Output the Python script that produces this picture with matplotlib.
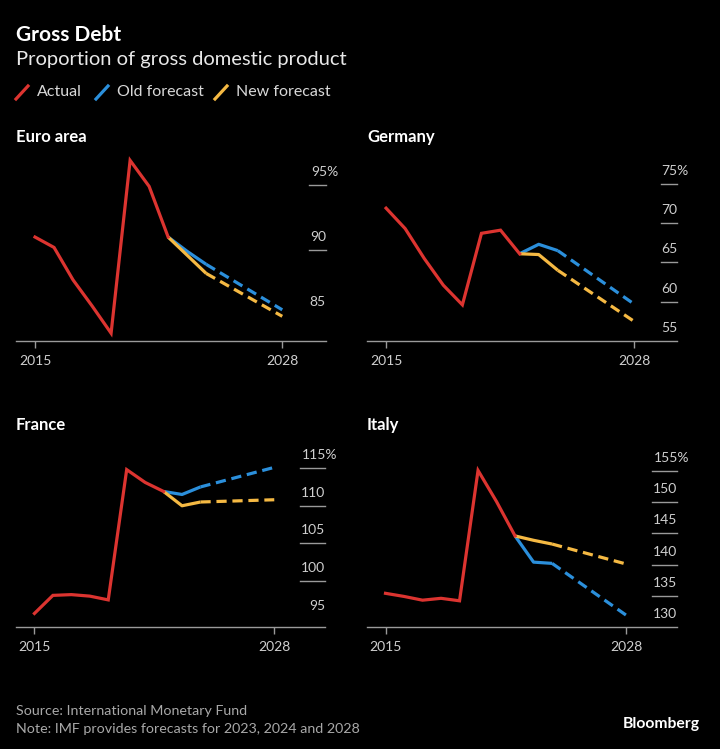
import numpy as np
import matplotlib.pyplot as plt
from matplotlib.lines import Line2D

plt.rcParams['font.family'] = ['Lato', 'DejaVu Sans']

# Data (share of GDP, %)
actual_years = [2015, 2016, 2017, 2018, 2019, 2020, 2021, 2022]
forecast_years = [2022, 2023, 2024, 2028]

euro_actual = [91.0, 90.2, 87.7, 85.7, 83.6, 96.9, 94.9, 91.0]
euro_old = [91.0, 89.9, 88.9, 85.4]
euro_new = [91.0, 89.6, 88.2, 84.9]

germany_actual = [71.9, 69.3, 65.5, 62.1, 59.6, 68.7, 69.1, 66.1]
germany_old = [66.1, 67.3, 66.5, 59.7]
germany_new = [66.1, 66.0, 64.0, 57.5]

france_actual = [95.7, 98.1, 98.2, 98.0, 97.5, 114.8, 113.1, 111.9]
france_old = [111.9, 111.5, 112.5, 115.1]
france_new = [111.9, 110.0, 110.5, 110.8]

italy_actual = [135.4, 134.9, 134.3, 134.6, 134.2, 155.1, 150.1, 144.6]
italy_old = [144.6, 140.4, 140.2, 131.9]
italy_new = [144.6, 143.9, 143.3, 140.1]

euro_ticks = [85, 90, 95]
germany_ticks = [55, 60, 65, 70, 75]
france_ticks = [95, 100, 105, 110, 115]
italy_ticks = [130, 135, 140, 145, 150, 155]

RED = '#dc3430'
BLUE = '#2b8fdb'
YELLOW = '#f5b943'
GRID = '#9a9a9a'
TICKTXT = '#cfcfcf'

W, H = 720, 749
fig = plt.figure(figsize=(W / 100, H / 100), dpi=100, facecolor='black')


def px_rect(left, top, right, bottom):
    return [left / W, 1 - bottom / H, (right - left) / W, (bottom - top) / H]


def panel(rect, title, actual, old, new, ticks, ylim, xlim, grid_start):
    ax = fig.add_axes(px_rect(*rect))
    ax.set_facecolor('black')
    ax.set_xlim(*xlim)
    ax.set_ylim(*ylim)
    for s in ['top', 'left', 'right']:
        ax.spines[s].set_visible(False)
    ax.spines['bottom'].set_color(GRID)
    ax.spines['bottom'].set_linewidth(1)
    ax.set_yticks([])
    ax.set_xticks([2015, 2028])
    ax.tick_params(axis='x', length=5, width=1, color=GRID, pad=5,
                   labelsize=10, labelcolor=TICKTXT)

    # right-side value labels with short rule lines
    trans = ax.get_yaxis_transform()
    for i, t in enumerate(ticks):
        if i > 0:
            ax.plot([grid_start, 1.0], [t, t], transform=trans, color=GRID,
                    lw=1, clip_on=False)
        if i == len(ticks) - 1:
            # top label carries the unit, which hangs past the rule
            ax.annotate(f'{t}%', xy=(1.0, t), xycoords=trans, xytext=(12, 13),
                        textcoords='offset pixels', ha='right', va='center',
                        fontsize=10, color=TICKTXT)
        else:
            ax.annotate(str(t), xy=(1.0, t), xycoords=trans, xytext=(0, 13),
                        textcoords='offset pixels', ha='right', va='center',
                        fontsize=10, color=TICKTXT)

    lw = 2.3
    ax.plot(forecast_years[:3], old[:3], color=BLUE, lw=lw, solid_capstyle='butt')
    ax.plot(forecast_years[2:], old[2:], color=BLUE, lw=lw, dashes=(3.2, 1.8))
    ax.plot(forecast_years[:3], new[:3], color=YELLOW, lw=lw, solid_capstyle='butt')
    ax.plot(forecast_years[2:], new[2:], color=YELLOW, lw=lw, dashes=(3.2, 1.8))
    ax.plot(actual_years, actual, color=RED, lw=lw, solid_joinstyle='miter')

    fig.text(rect[0] / W, 1 - (rect[1] - 13) / H, title, fontsize=12,
             fontweight='bold', color='white', ha='left', va='center')
    return ax


panel((16, 150, 326, 341), 'Euro area', euro_actual, euro_old, euro_new,
      euro_ticks, (83.0, 97.7), (2014.0, 2030.3), 0.945)
panel((367, 150, 677, 341), 'Germany', germany_actual, germany_old, germany_new,
      germany_ticks, (55.0, 79.3), (2014.0, 2030.25), 0.948)
panel((16, 438, 325, 627), 'France', france_actual, france_old, france_new,
      france_ticks, (93.9, 119.0), (2014.0, 2030.75), 0.92)
panel((367, 438, 677, 627), 'Italy', italy_actual, italy_old, italy_new,
      italy_ticks, (130.0, 160.3), (2014.0, 2030.75), 0.92)

# Header
fig.text(16 / W, 1 - 35 / H, 'Gross Debt', fontsize=15, fontweight='bold',
         color='white', ha='left', va='center')
fig.text(16 / W, 1 - 59 / H, 'Proportion of gross domestic product',
         fontsize=14.5, color='#e8e8e8', ha='left', va='center')

# Legend
legend_items = [('Actual', RED, 16), ('Old forecast', BLUE, 96),
                ('New forecast', YELLOW, 215)]
for label, col, x0 in legend_items:
    fig.add_artist(Line2D([x0 / W, (x0 + 12) / W], [1 - 99 / H, 1 - 86 / H],
                          color=col, lw=2.3, transform=fig.transFigure))
    fig.text((x0 + 21) / W, 1 - 92 / H, label, fontsize=11.5, color='#d8d8d8',
             ha='left', va='center')

# Footer
fig.text(16 / W, 1 - 711 / H, 'Source: International Monetary Fund',
         fontsize=10.3, color='#a8a8a8', ha='left', va='center')
fig.text(16 / W, 1 - 729 / H, 'Note: IMF provides forecasts for 2023, 2024 and 2028',
         fontsize=10.3, color='#a8a8a8', ha='left', va='center')
fig.text(700 / W, 1 - 724 / H, 'Bloomberg', fontsize=11.3, fontweight='bold',
         color='white', ha='right', va='center')

fig.savefig('out.png', dpi=100, facecolor='black')
